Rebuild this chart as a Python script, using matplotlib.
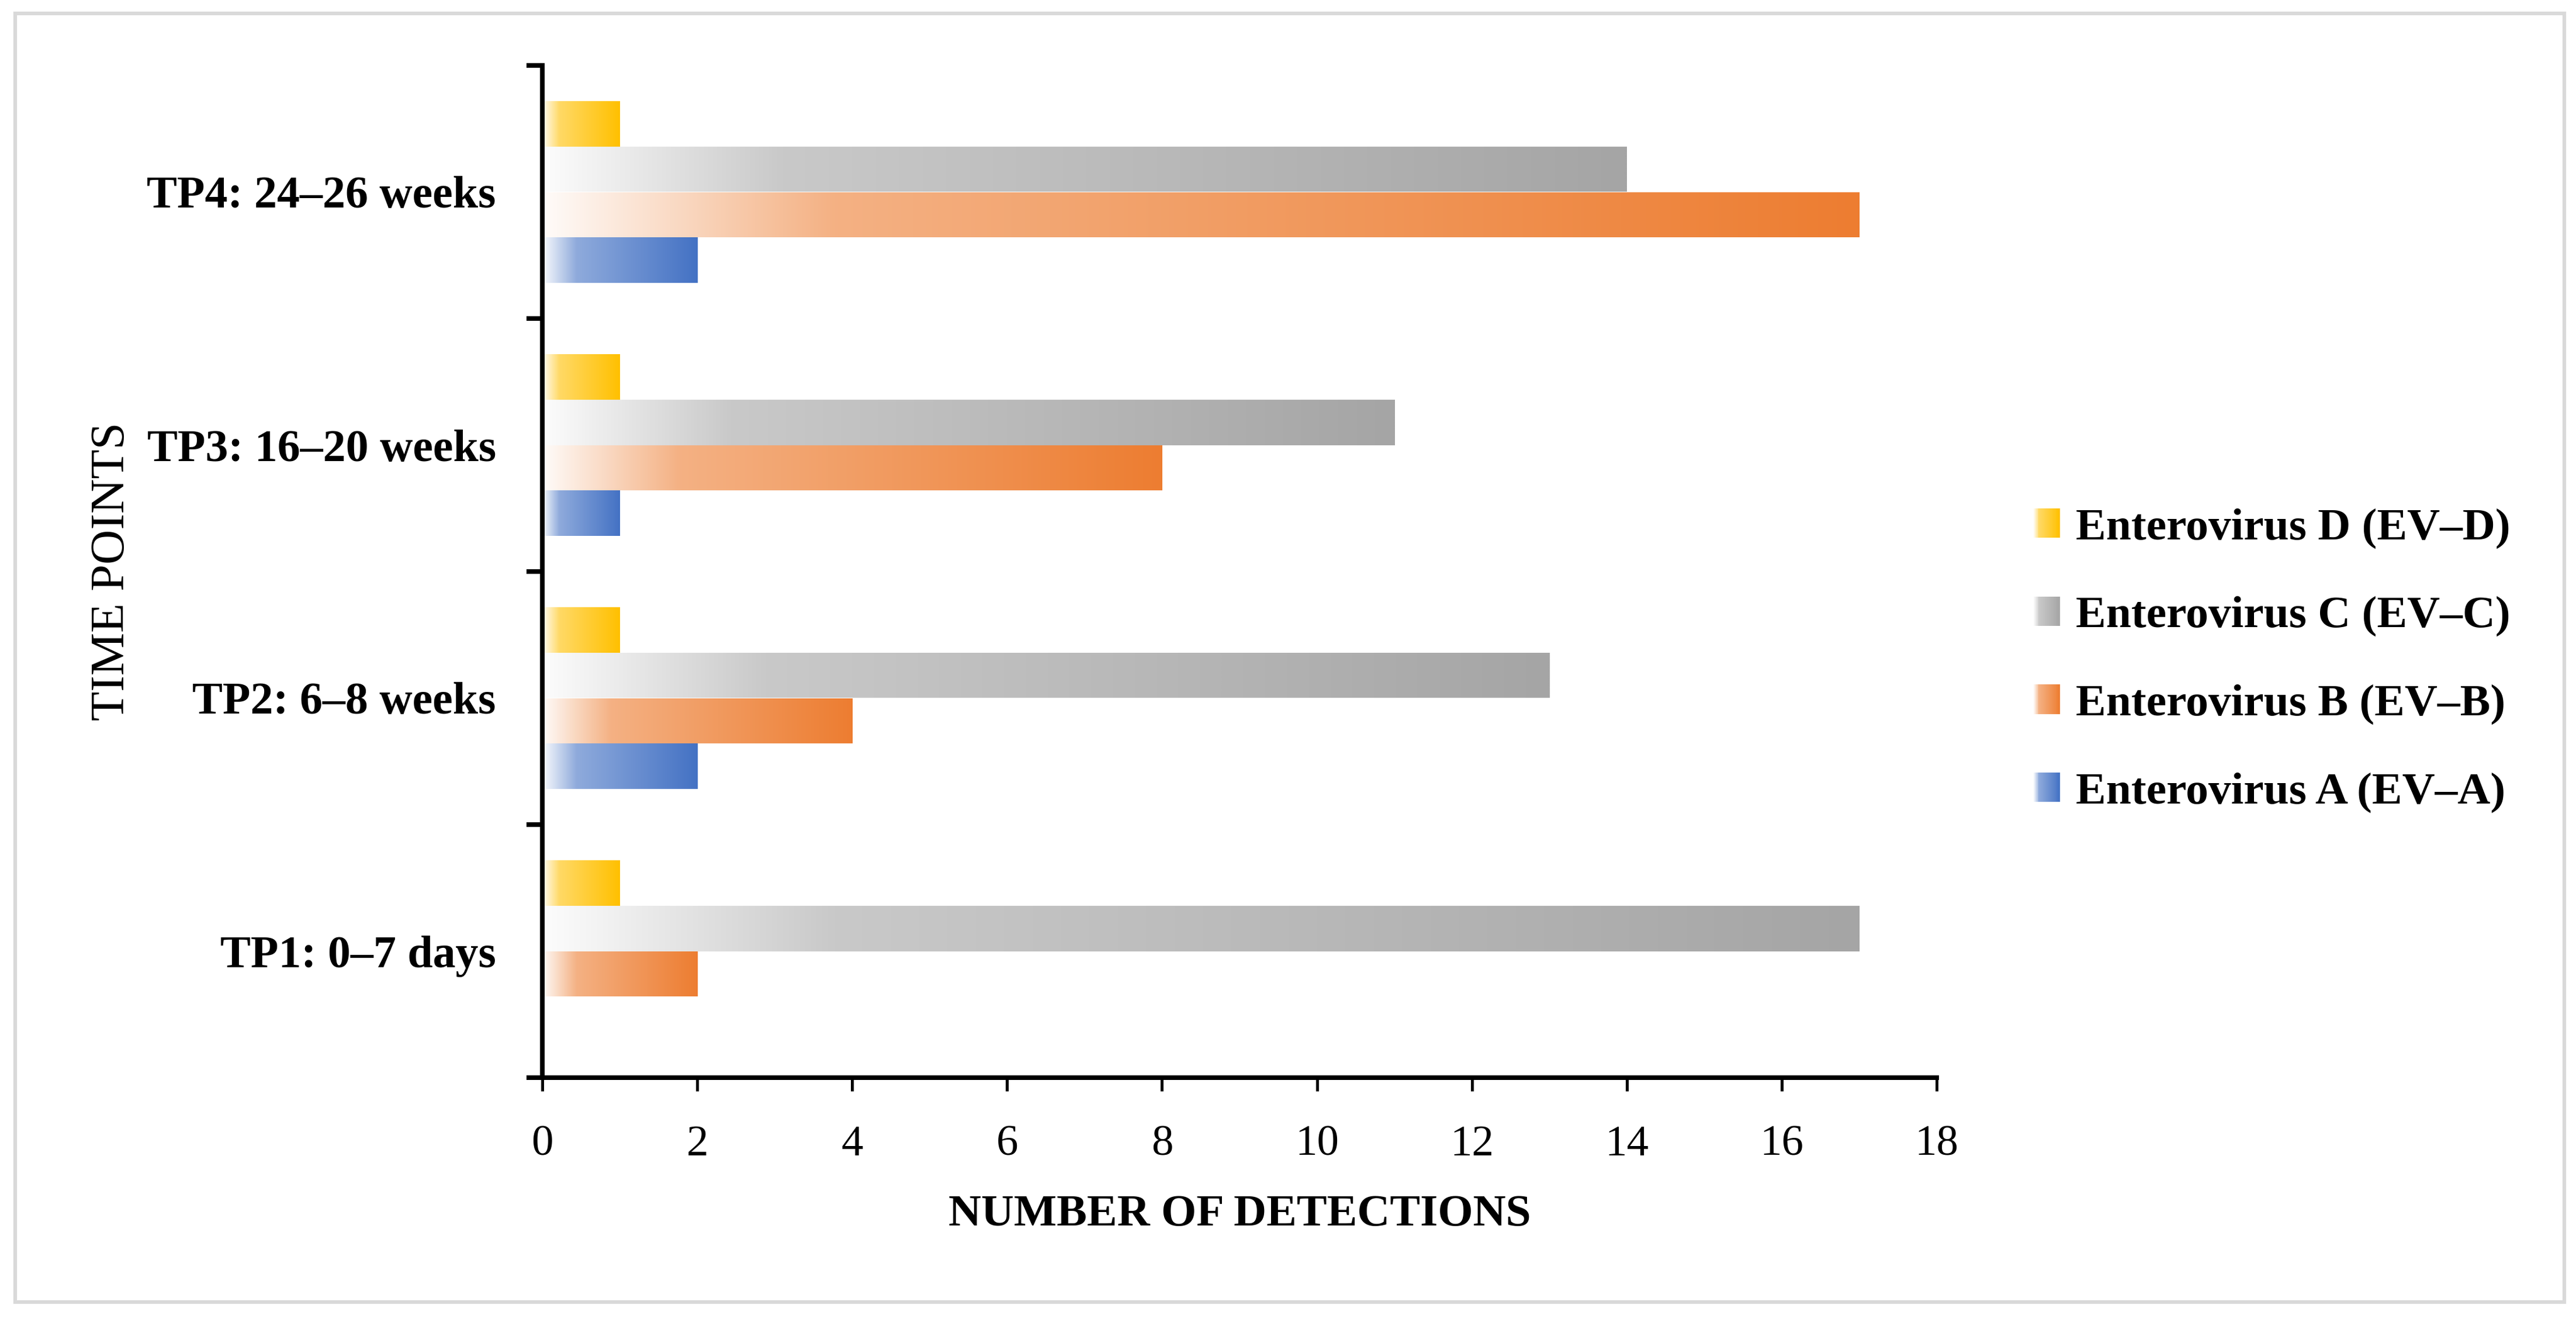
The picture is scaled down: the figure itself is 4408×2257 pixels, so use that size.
import numpy as np
import matplotlib
matplotlib.use("Agg")
import matplotlib.pyplot as plt
from matplotlib.patches import Patch, Rectangle
from matplotlib.legend_handler import HandlerBase
from matplotlib.colors import to_rgb

plt.rcParams['font.family'] = ['Liberation Serif', 'DejaVu Serif']

# data
time_points = ["TP1: 0\u20137 days", "TP2: 6\u20138 weeks", "TP3: 16\u201320 weeks", "TP4: 24\u201326 weeks"]
series_names = ["Enterovirus A (EV\u2013A)", "Enterovirus B (EV\u2013B)",
                "Enterovirus C (EV\u2013C)", "Enterovirus D (EV\u2013D)"]
ev_a = [0, 2, 1, 2]
ev_b = [2, 4, 8, 17]
ev_c = [17, 13, 11, 14]
ev_d = [1, 1, 1, 1]
series_colors = ["#4472C4", "#ED7D31", "#A5A5A5", "#FFC000"]


def gradient_colors(color, n=256):
    # light-to-full horizontal gradient like the Excel preset
    c = np.array(to_rgb(color))
    t = np.linspace(0, 1, n)
    f = np.interp(t, [0, 0.22, 1], [0.03, 0.6, 1.0])
    return 1 - f[:, None] * (1 - c[None, :])


class GradientHandler(HandlerBase):
    def __init__(self, color):
        super().__init__()
        self.cols = gradient_colors(color, 24)

    def create_artists(self, legend, orig_handle, xdescent, ydescent, width, height, fontsize, trans):
        n = len(self.cols)
        arts = []
        for i in range(n):
            r = Rectangle((-xdescent + width * i / n, -ydescent), width / n * 1.1, height,
                          facecolor=self.cols[i], edgecolor='none', transform=trans)
            arts.append(r)
        return arts


fig = plt.figure(figsize=(4408 / 300, 2257 / 300), dpi=300)
ax = fig.add_axes([928 / 4408, 1 - 1844 / 2257, (3314 - 928) / 4408, (1844 - 112) / 2257])

y = np.arange(len(time_points))
h = 0.18
all_vals = [ev_a, ev_b, ev_c, ev_d]
offsets = [-1.5 * h, -0.5 * h, 0.5 * h, 1.5 * h]

for vals, off, col in zip(all_vals, offsets, series_colors):
    bars = ax.barh(y + off, vals, height=h, color='none', edgecolor='none')
    grad = gradient_colors(col)[None, :, :]
    for b in bars:
        if b.get_width() <= 0:
            continue
        x0, y0 = b.get_x(), b.get_y()
        im = ax.imshow(grad, extent=[x0, x0 + b.get_width(), y0, y0 + b.get_height()],
                       aspect='auto', interpolation='bilinear', zorder=2)
        im.set_clip_path(b)

ax.set_xlim(0, 18)
ax.set_ylim(-0.5, len(time_points) - 0.5)
ax.set_xticks(np.arange(0, 19, 2))
ax.set_yticks(np.arange(-0.5, len(time_points), 1))
ax.set_yticklabels([])
ax.set_yticks(y, minor=True)
ax.set_yticklabels(time_points, minor=True, fontsize=18.7, fontweight='bold')
ax.tick_params(axis='y', which='major', length=6.5, width=1.9, direction='out')
ax.tick_params(axis='y', which='minor', length=0, pad=19)
ax.tick_params(axis='x', length=5.5, width=1.2, direction='out', labelsize=18, pad=14)

for s in ['top', 'right']:
    ax.spines[s].set_visible(False)
for s in ['left', 'bottom']:
    ax.spines[s].set_linewidth(1.9)

ax.set_xlabel("NUMBER OF DETECTIONS", fontsize=18.6, fontweight='bold')
ax.xaxis.set_label_coords(0.5, -(2078 - 1844) / 1732)
ax.xaxis.label.set_va('center')
ax.set_ylabel("TIME POINTS", fontsize=19.8)
ax.yaxis.set_label_coords(-(928 - 192) / 2386, 0.5)
ax.yaxis.label.set_va('center')

# legend (top to bottom: D, C, B, A)
handles = [Patch(label=n) for n in series_names]
hmap = {hd: GradientHandler(c) for hd, c in zip(handles, series_colors)}
order = [3, 2, 1, 0]
leg = fig.legend([handles[i] for i in order], [series_names[i] for i in order],
                 handler_map=hmap, loc='center left', bbox_to_anchor=(3440 / 4408, 1 - 1130 / 2257),
                 frameon=False, handlelength=0.6, handleheight=0.62, handletextpad=0.35,
                 labelspacing=1.05, borderpad=0, prop={'size': 18.6, 'weight': 'bold'})

# light grey frame round the figure
fig.patches.append(Rectangle((26 / 4408, 1 - 2228 / 2257), (4388 - 26) / 4408, (2228 - 23) / 2257,
                             transform=fig.transFigure, fill=False, edgecolor='#D9D9D9', linewidth=1.5))

fig.savefig("out.png", dpi=300, facecolor='white')
